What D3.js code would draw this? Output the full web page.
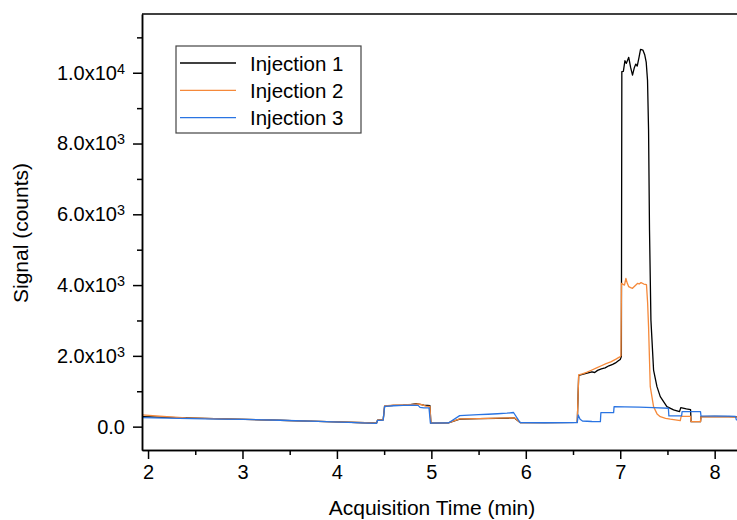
<!DOCTYPE html>
<html>
<head>
<meta charset="utf-8">
<script src="https://cdn.jsdelivr.net/npm/d3@7"></script>
<style>
    body { margin: 0; background: #fff; }
    svg { display: block; font-family: Arial, 'Liberation Sans', sans-serif; }
    .axis path, .axis line { stroke: #000; stroke-width: 1.5; }
    .axis text { font-size: 20px; fill: #000; }
    .axis-title { font-size: 21px; fill: #000; }
    .legend text { font-size: 20.5px; fill: #000; }
</style>
</head>
<body>
<div id="chart"></div>
<script>
// Acquisition time (min) vs signal (counts)
const injection1 = [
    [1.936, 285], [2.1, 270], [2.4, 245], [2.8, 220], [3.2, 195], [3.6, 165], [4.0, 135], [4.3, 110],
    [4.42, 100], [4.43, 185], [4.49, 195], [4.505, 580], [4.6, 600], [4.7, 610], [4.78, 625], [4.84, 650],
    [4.88, 630], [4.92, 610], [4.96, 600], [4.985, 590], [4.995, 100], [5.18, 105], [5.3, 215], [5.5, 225],
    [5.7, 235], [5.88, 245], [5.94, 115], [6.2, 112], [6.545, 118], [6.56, 1450], [6.6, 1480], [6.65, 1510],
    [6.7, 1550], [6.73, 1530], [6.76, 1590], [6.8, 1630], [6.84, 1660], [6.88, 1720], [6.92, 1760],
    [6.95, 1800], [6.98, 1860], [7.0, 1900], [7.012, 1980], [7.017, 10030], [7.033, 10040], [7.05, 10340],
    [7.065, 10265], [7.09, 10435], [7.11, 10150], [7.13, 9935], [7.15, 10150], [7.165, 10245], [7.18, 10190],
    [7.2, 10450], [7.215, 10660], [7.24, 10640], [7.26, 10500], [7.275, 10300], [7.289, 9790], [7.30, 8380],
    [7.31, 5555], [7.325, 3010], [7.353, 1600], [7.389, 1130], [7.424, 848], [7.494, 565], [7.565, 472],
    [7.628, 424], [7.641, 537], [7.70, 500], [7.745, 480], [7.75, 141], [7.85, 141], [7.855, 283],
    [8.0, 290], [8.15, 285], [8.3, 275]
];

const injection2 = [
    [1.936, 330], [2.05, 310], [2.2, 280], [2.4, 250], [2.8, 222], [3.2, 195], [3.6, 165], [4.0, 135],
    [4.3, 110], [4.42, 100], [4.43, 185], [4.49, 195], [4.505, 585], [4.6, 605], [4.7, 615], [4.8, 630],
    [4.86, 640], [4.9, 620], [4.94, 580], [4.985, 570], [4.995, 100], [5.18, 105], [5.3, 220], [5.5, 228],
    [5.7, 238], [5.88, 248], [5.94, 115], [6.2, 112], [6.545, 118], [6.56, 1460], [6.6, 1490], [6.65, 1540],
    [6.7, 1600], [6.75, 1660], [6.8, 1720], [6.85, 1780], [6.9, 1830], [6.95, 1900], [7.0, 1980],
    [7.008, 2000], [7.013, 4050], [7.03, 4020], [7.045, 4000], [7.06, 4190], [7.075, 4050], [7.09, 3955],
    [7.11, 3930], [7.13, 3910], [7.16, 3990], [7.185, 4050], [7.2, 4030], [7.22, 4070], [7.25, 4030],
    [7.278, 4010], [7.29, 3500], [7.30, 2825], [7.318, 1130], [7.353, 565], [7.39, 360], [7.424, 282],
    [7.48, 235], [7.53, 210], [7.636, 170], [7.645, 290], [7.745, 290], [7.75, 141], [7.85, 141],
    [7.855, 275], [8.0, 280], [8.15, 275], [8.3, 270]
];

const injection3 = [
    [1.936, 255], [2.2, 240], [2.6, 222], [3.0, 205], [3.4, 180], [3.8, 150], [4.2, 115], [4.42, 95],
    [4.43, 175], [4.49, 185], [4.505, 570], [4.6, 590], [4.7, 600], [4.8, 605], [4.86, 600], [4.88, 545],
    [4.92, 530], [4.975, 530], [4.99, 100], [5.18, 105], [5.3, 310], [5.4, 325], [5.5, 340], [5.6, 350],
    [5.7, 365], [5.8, 380], [5.87, 400], [5.94, 113], [6.2, 110], [6.545, 113], [6.555, 330], [6.575, 210],
    [6.6, 160], [6.7, 145], [6.79, 141], [6.795, 395], [6.93, 395], [6.935, 565], [7.05, 560], [7.2, 550],
    [7.35, 540], [7.51, 520], [7.515, 302], [7.65, 302], [7.655, 424], [7.85, 424], [7.855, 302],
    [8.0, 300], [8.15, 295], [8.22, 290], [8.23, 190], [8.3, 190]
];

const seriesNames = ['Injection 1', 'Injection 2', 'Injection 3'];
const seriesColors = ['#000000', '#f5893a', '#2a74e2'];

const xMajorTicks = [2, 3, 4, 5, 6, 7, 8];
const xMinorTicks = [2.5, 3.5, 4.5, 5.5, 6.5, 7.5];
const yMajorTicks = [0, 2000, 4000, 6000, 8000, 10000];
const yMinorTicks = [1000, 3000, 5000, 7000, 9000, 11000];

const config = {
    containerWidth: 737,
    containerHeight: 520,
    margin: {top: 14, left: 142}
};
const width = 601;   // plot keeps going past the right edge of the window
const height = 436;

const svg = d3.select('#chart').append('svg')
    .attr('width', config.containerWidth)
    .attr('height', config.containerHeight);

const chart = svg.append('g')
    .attr('transform', `translate(${config.margin.left},${config.margin.top})`);

const xScale = d3.scaleLinear().domain([1.936, 8.3]).range([0, width]);
const yScale = d3.scaleLinear().domain([-660, 11660]).range([height, 0]);

svg.append('defs').append('clipPath').attr('id', 'plot-clip')
    .append('rect').attr('x', 0).attr('y', 0).attr('width', width).attr('height', height);

// data lines
const line = d3.line().x(d => xScale(d[0])).y(d => yScale(d[1]));
const plot = chart.append('g').attr('clip-path', 'url(#plot-clip)');
[injection1, injection2, injection3].forEach((data, i) => {
    plot.append('path')
        .datum(data)
        .attr('fill', 'none')
        .attr('stroke', seriesColors[i])
        .attr('stroke-width', 1.3)
        .attr('stroke-linejoin', 'round')
        .attr('d', line);
});

// minor ticks
chart.append('g').attr('class', 'axis')
    .attr('transform', `translate(0,${height})`)
    .call(d3.axisBottom(xScale).tickValues(xMinorTicks).tickSize(5).tickFormat('').tickSizeOuter(0));
chart.append('g').attr('class', 'axis')
    .call(d3.axisLeft(yScale).tickValues(yMinorTicks).tickSize(5).tickFormat('').tickSizeOuter(0));

// major axes
chart.append('g').attr('class', 'axis x-axis')
    .attr('transform', `translate(0,${height})`)
    .call(d3.axisBottom(xScale).tickValues(xMajorTicks).tickSize(9).tickPadding(6)
        .tickFormat(d3.format('d')).tickSizeOuter(0));

const yAxisGroup = chart.append('g').attr('class', 'axis y-axis')
    .call(d3.axisLeft(yScale).tickValues(yMajorTicks).tickSize(9).tickPadding(8).tickSizeOuter(0));

// labels like 2.0x10^3
yAxisGroup.selectAll('.tick text').each(function(d) {
    const t = d3.select(this).text(null);
    if (d === 0) {
        t.text('0.0');
        return;
    }
    const exp = Math.floor(Math.log10(d));
    t.append('tspan').text((d / 10 ** exp).toFixed(1) + 'x10');
    t.append('tspan').attr('dy', '-0.42em').attr('font-size', '0.72em').text(exp);
});

// top frame line
chart.append('line')
    .attr('x1', 0).attr('x2', width)
    .attr('y1', 0).attr('y2', 0)
    .attr('stroke', '#000').attr('stroke-width', 1.5);

// axis titles
svg.append('text')
    .attr('class', 'axis-title')
    .attr('x', 432).attr('y', 515)
    .attr('text-anchor', 'middle')
    .text('Acquisition Time (min)');

svg.append('text')
    .attr('class', 'axis-title')
    .attr('transform', 'translate(28,233) rotate(-90)')
    .attr('text-anchor', 'middle')
    .text('Signal (counts)');

// legend
const legend = svg.append('g').attr('class', 'legend')
    .attr('transform', 'translate(176,46)');

legend.append('rect')
    .attr('width', 185).attr('height', 87)
    .attr('fill', '#fff').attr('stroke', '#444').attr('stroke-width', 1.2);

seriesNames.forEach((name, i) => {
    const row = legend.append('g').attr('transform', `translate(0,${17 + i * 27.3})`);
    row.append('line')
        .attr('x1', 4).attr('x2', 60)
        .attr('stroke', seriesColors[i]).attr('stroke-width', 1.3);
    row.append('text')
        .attr('x', 74).attr('y', 7.5)
        .text(name);
});
</script>
</body>
</html>
